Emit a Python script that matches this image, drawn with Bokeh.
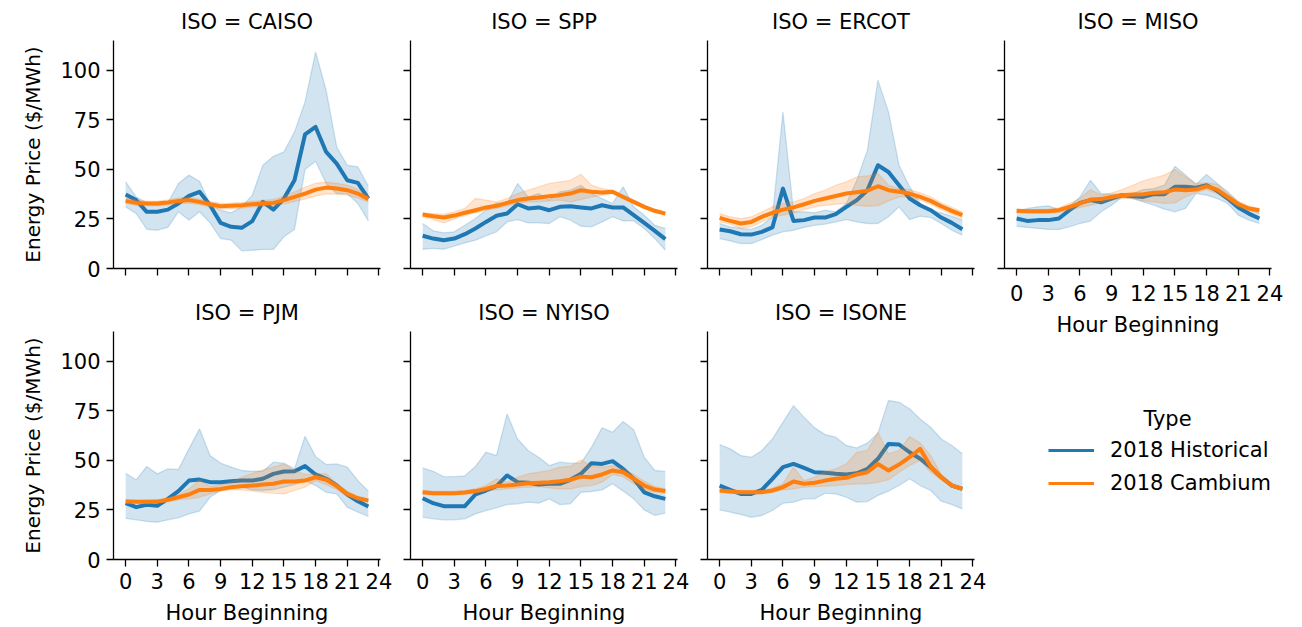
from bokeh.plotting import figure
from bokeh.models import ColumnDataSource, Range1d, FixedTicker, Legend, LegendItem, Label
from bokeh.layouts import row, column
from bokeh.embed import file_html
from bokeh.resources import INLINE

hours = list(range(24))
hour_ticks = [0, 3, 6, 9, 12, 15, 18, 21, 24]
price_ticks = [0, 25, 50, 75, 100]
series_labels = ["2018 Historical", "2018 Cambium"]

# ---- CAISO ----
caiso_hist = [37.3, 34.5, 28.6, 28.6, 29.7, 32.8, 36.6, 38.7, 31.9, 23.0, 21.0, 20.5, 23.9, 33.6, 29.7, 35.3, 44.5, 67.6, 71.4, 58.8, 52.9, 44.5, 43.2, 35.3]
caiso_hist_hi = [43.7, 36.1, 33.1, 31.9, 33.1, 42.9, 47.1, 44.0, 32.4, 29.4, 28.1, 31.1, 37.0, 52.1, 56.6, 58.8, 68.9, 84.0, 109.2, 89.9, 61.3, 52.1, 51.3, 41.5]
caiso_hist_lo = [31.1, 27.7, 19.8, 19.3, 20.7, 28.6, 24.4, 28.6, 23.0, 15.1, 14.3, 8.9, 9.2, 9.6, 9.6, 16.0, 19.7, 49.9, 54.1, 42.9, 37.8, 37.8, 32.8, 24.0]
caiso_camb = [34.1, 33.1, 32.8, 32.8, 33.3, 34.1, 34.5, 33.6, 32.4, 31.4, 31.6, 31.9, 32.4, 32.8, 33.1, 34.5, 36.1, 37.8, 39.8, 40.8, 40.3, 39.5, 37.8, 35.0]
caiso_camb_hi = [35.5, 34.5, 34.0, 34.0, 34.6, 35.5, 36.0, 35.0, 33.8, 32.8, 33.0, 33.3, 33.8, 34.3, 34.8, 36.5, 38.6, 41.0, 43.0, 43.5, 43.0, 42.0, 40.0, 36.5]
caiso_camb_lo = [32.8, 31.8, 31.6, 31.6, 32.0, 32.7, 33.0, 32.2, 31.0, 30.0, 30.2, 30.5, 31.0, 31.4, 31.5, 32.6, 33.8, 35.0, 36.5, 37.6, 37.5, 37.0, 35.6, 33.5]

# ---- SPP ----
spp_hist = [16.5, 15.1, 14.3, 15.1, 17.3, 20.2, 23.5, 26.6, 27.7, 32.4, 30.3, 30.8, 29.4, 31.1, 31.4, 30.8, 30.3, 31.9, 30.8, 30.8, 26.9, 23.0, 19.0, 14.8]
spp_hist_hi = [22.7, 19.0, 18.0, 18.5, 21.8, 25.2, 29.4, 33.1, 32.8, 42.9, 36.1, 37.8, 34.5, 38.7, 39.5, 42.0, 37.8, 35.3, 32.8, 41.2, 31.1, 26.9, 21.8, 20.2]
spp_hist_lo = [9.7, 10.1, 9.7, 11.3, 12.9, 14.3, 16.5, 18.5, 23.5, 24.7, 23.0, 23.0, 22.7, 26.1, 24.4, 21.3, 21.0, 23.5, 26.1, 24.0, 24.0, 20.2, 15.1, 9.2]
spp_camb = [27.2, 26.4, 25.7, 26.7, 28.1, 29.4, 30.8, 31.6, 33.1, 34.5, 35.3, 35.8, 36.5, 37.0, 37.8, 39.5, 38.7, 38.3, 38.7, 36.1, 33.6, 31.1, 29.1, 27.7]
spp_camb_hi = [28.1, 27.7, 27.4, 28.6, 30.3, 35.3, 34.5, 33.6, 35.3, 37.8, 39.5, 41.2, 42.9, 43.7, 44.5, 47.6, 42.0, 40.3, 39.5, 37.0, 34.5, 31.9, 29.6, 28.4]
spp_camb_lo = [26.1, 24.7, 23.0, 25.0, 26.7, 28.1, 29.4, 30.3, 31.6, 32.8, 33.6, 33.6, 34.1, 34.5, 33.6, 34.8, 36.1, 37.0, 37.8, 35.3, 32.8, 30.3, 28.2, 26.9]

# ---- ERCOT ----
ercot_hist = [19.7, 18.8, 17.3, 17.1, 18.5, 20.7, 40.3, 24.0, 24.4, 25.7, 25.7, 27.4, 31.1, 34.5, 39.5, 52.1, 48.7, 42.0, 35.3, 31.9, 29.4, 25.7, 23.0, 19.8]
ercot_hist_hi = [22.7, 21.0, 20.2, 19.7, 21.8, 26.1, 79.0, 28.6, 28.6, 28.1, 29.4, 28.6, 32.8, 44.5, 59.7, 95.0, 79.0, 52.1, 41.2, 32.8, 29.4, 28.1, 26.4, 24.4]
ercot_hist_lo = [15.1, 13.9, 12.6, 12.6, 14.6, 16.8, 18.5, 19.3, 20.7, 21.8, 22.4, 23.5, 24.7, 23.5, 22.7, 22.7, 26.1, 31.1, 24.7, 26.4, 25.7, 22.7, 19.3, 16.8]
ercot_camb = [25.5, 24.0, 22.7, 23.5, 26.1, 28.1, 29.7, 30.8, 32.4, 34.1, 35.3, 36.6, 37.8, 38.5, 39.2, 41.5, 39.5, 38.7, 37.8, 36.1, 34.1, 31.4, 29.1, 26.9]
ercot_camb_hi = [27.7, 26.1, 25.2, 26.1, 28.6, 31.1, 32.8, 33.6, 35.3, 37.8, 39.5, 42.0, 43.7, 46.2, 46.7, 47.9, 42.0, 40.3, 39.8, 38.2, 36.1, 33.1, 30.8, 28.6]
ercot_camb_lo = [23.5, 22.4, 20.2, 21.0, 23.5, 26.1, 26.9, 28.1, 29.7, 31.1, 31.9, 32.4, 32.8, 31.9, 31.4, 31.6, 34.1, 36.1, 36.1, 34.5, 32.4, 29.7, 27.4, 25.2]

# ---- MISO ----
miso_hist = [25.2, 24.0, 24.4, 24.4, 25.2, 29.4, 33.1, 34.5, 33.4, 35.3, 37.0, 36.5, 36.1, 37.5, 37.5, 41.2, 41.2, 40.7, 42.0, 39.2, 35.3, 30.8, 27.7, 25.2]
miso_hist_hi = [28.6, 30.3, 31.1, 31.6, 29.7, 31.1, 36.1, 44.5, 37.8, 37.5, 37.8, 37.8, 39.8, 40.3, 42.0, 51.6, 47.1, 42.5, 47.4, 42.9, 38.7, 33.6, 30.3, 27.7]
miso_hist_lo = [21.3, 20.7, 20.2, 19.7, 19.7, 21.0, 22.7, 23.9, 28.6, 31.9, 36.1, 35.3, 33.6, 31.9, 29.9, 28.6, 30.3, 37.8, 37.0, 35.3, 32.8, 26.9, 24.4, 22.7]
miso_camb = [29.1, 28.9, 28.9, 28.9, 29.4, 31.1, 32.8, 34.8, 35.0, 36.1, 37.0, 37.3, 37.5, 38.2, 38.5, 39.8, 39.5, 39.8, 41.5, 39.8, 36.1, 32.4, 30.3, 29.4]
miso_camb_hi = [29.9, 29.7, 29.7, 29.9, 30.6, 32.8, 35.3, 39.8, 37.0, 38.2, 39.8, 42.0, 44.2, 45.7, 47.1, 49.9, 46.2, 42.9, 43.2, 42.5, 37.8, 34.0, 31.4, 30.3]
miso_camb_lo = [28.1, 27.9, 27.9, 27.9, 28.2, 29.4, 30.8, 31.9, 33.1, 34.5, 35.3, 35.3, 34.1, 33.6, 32.8, 33.1, 36.1, 38.3, 39.8, 37.8, 34.5, 31.1, 29.1, 28.2]

# ---- PJM ----
pjm_hist = [28.4, 26.4, 27.6, 27.1, 30.6, 34.5, 39.8, 40.3, 39.0, 39.0, 39.5, 39.8, 39.8, 40.7, 43.2, 44.4, 44.5, 47.1, 42.9, 40.7, 37.3, 32.8, 29.4, 26.7]
pjm_hist_hi = [43.5, 40.2, 46.9, 43.2, 45.7, 45.4, 55.8, 65.9, 52.4, 48.6, 46.6, 44.9, 44.5, 44.5, 49.1, 48.6, 45.7, 62.2, 51.9, 47.9, 48.2, 46.6, 39.8, 34.5]
pjm_hist_lo = [20.8, 20.0, 19.2, 18.8, 20.0, 21.0, 23.0, 24.4, 31.4, 34.8, 36.5, 36.5, 35.1, 34.8, 35.3, 36.5, 37.8, 39.8, 37.3, 33.9, 33.1, 26.4, 23.9, 21.7]
pjm_camb = [29.2, 29.1, 29.1, 29.2, 30.1, 31.4, 32.8, 35.1, 35.1, 35.6, 36.5, 37.0, 37.3, 37.8, 38.2, 39.3, 39.3, 39.8, 41.5, 40.2, 37.0, 33.1, 30.9, 29.7]
pjm_camb_hi = [30.1, 29.9, 29.9, 30.1, 31.1, 32.8, 35.6, 40.2, 36.8, 37.8, 39.0, 41.5, 43.5, 45.2, 46.6, 48.2, 44.9, 42.9, 43.2, 43.2, 38.5, 34.5, 31.9, 30.6]
pjm_camb_lo = [28.4, 28.2, 28.2, 28.4, 29.1, 30.1, 30.6, 31.4, 33.1, 34.5, 35.1, 35.1, 34.5, 33.9, 33.4, 33.1, 34.8, 36.5, 39.8, 37.8, 35.3, 31.8, 30.1, 28.9]

# ---- NYISO ----
nyiso_hist = [30.9, 28.4, 26.9, 26.9, 26.9, 32.8, 34.8, 37.0, 42.4, 39.0, 38.7, 37.8, 38.2, 38.2, 40.2, 43.2, 48.6, 48.2, 49.6, 45.7, 40.7, 33.9, 31.9, 30.6]
nyiso_hist_hi = [46.2, 44.5, 41.8, 41.8, 42.2, 46.9, 54.1, 52.4, 73.4, 60.8, 55.0, 51.6, 47.4, 49.1, 48.6, 48.6, 56.6, 66.4, 64.2, 69.6, 65.4, 51.6, 44.9, 44.4]
nyiso_hist_lo = [21.3, 20.5, 20.0, 20.0, 20.5, 23.0, 24.7, 26.1, 27.7, 28.1, 28.9, 28.4, 30.6, 27.7, 28.1, 33.9, 34.3, 35.1, 38.2, 34.5, 30.6, 25.0, 22.2, 23.4]
nyiso_camb = [33.9, 33.4, 33.4, 33.4, 33.8, 34.5, 35.6, 37.1, 37.3, 37.8, 38.5, 38.7, 39.0, 39.5, 40.2, 41.8, 41.5, 42.9, 44.9, 44.0, 40.7, 37.3, 35.3, 34.5]
nyiso_camb_hi = [34.8, 34.3, 34.3, 34.5, 34.8, 35.6, 37.3, 40.7, 39.0, 41.5, 43.2, 44.0, 44.9, 46.6, 46.9, 50.3, 46.9, 46.6, 47.4, 45.7, 42.9, 39.5, 36.8, 35.6]
nyiso_camb_lo = [33.1, 32.6, 32.6, 32.6, 32.9, 33.4, 34.5, 35.1, 35.6, 36.1, 36.5, 36.8, 36.1, 35.6, 35.6, 36.8, 37.3, 39.0, 42.9, 41.8, 38.2, 35.1, 33.9, 33.4]

# ---- ISONE ----
isone_hist = [37.3, 35.1, 33.1, 33.1, 35.1, 40.7, 46.6, 48.2, 46.2, 44.0, 43.7, 43.2, 42.9, 43.5, 45.7, 50.8, 58.3, 58.0, 54.1, 50.8, 46.6, 41.5, 37.3, 35.6]
isone_hist_hi = [58.0, 55.8, 52.4, 51.6, 55.0, 60.8, 69.2, 77.6, 71.8, 66.4, 63.0, 61.7, 57.5, 56.3, 58.7, 63.7, 80.2, 79.3, 76.0, 70.9, 66.7, 60.8, 57.5, 53.3]
isone_hist_lo = [25.0, 23.9, 22.7, 21.3, 22.2, 24.7, 28.4, 28.9, 30.6, 30.6, 33.4, 33.1, 31.4, 28.9, 29.2, 32.3, 34.5, 37.3, 40.7, 37.3, 34.8, 29.4, 27.7, 25.5]
isone_camb = [34.8, 34.3, 33.9, 33.9, 33.9, 34.8, 36.5, 39.3, 38.2, 38.7, 39.8, 40.7, 41.2, 42.9, 44.0, 48.2, 44.9, 47.9, 51.6, 55.8, 46.9, 41.5, 37.3, 35.6]
isone_camb_hi = [35.6, 35.1, 34.8, 34.8, 34.8, 36.0, 38.2, 46.6, 39.8, 41.5, 44.5, 45.7, 48.2, 54.1, 55.0, 64.2, 53.3, 55.0, 62.0, 58.8, 52.4, 42.9, 38.5, 36.5]
isone_camb_lo = [33.9, 33.4, 33.1, 33.1, 33.4, 33.9, 35.1, 35.6, 36.5, 36.8, 37.0, 37.3, 37.8, 38.2, 38.2, 39.0, 40.2, 44.0, 47.4, 49.9, 44.0, 40.2, 36.5, 34.8]

BLUE = "#1f77b4"
ORANGE = "#ff7f0e"
FONT = "DejaVu Sans"
FS = "21px"

FRAME_W = 267
FRAME_H = 228


def style_axis(ax, show_labels, label_text, label_size, label_standoff, tick_standoff):
    ax.axis_line_color = "black"
    ax.axis_line_width = 1.3
    ax.major_tick_line_color = "black"
    ax.major_tick_line_width = 1.3
    ax.major_tick_out = 7
    ax.major_tick_in = 0
    ax.minor_tick_line_color = None
    ax.major_label_text_font = FONT
    ax.major_label_standoff = tick_standoff
    if show_labels:
        ax.major_label_text_font_size = FS
        ax.major_label_text_color = "black"
        ax.axis_label = label_text
        ax.axis_label_text_font = FONT
        ax.axis_label_text_font_style = "normal"
        ax.axis_label_text_color = "black"
        ax.axis_label_text_font_size = label_size
        ax.axis_label_standoff = label_standoff
    else:
        # shared axis: tick marks only, no tick labels drawn
        ax.major_label_text_font_size = "1px"
        ax.major_label_text_color = None
        ax.major_label_standoff = 0


def make_panel(name, hist, hist_lo, hist_hi, camb, camb_lo, camb_hi,
               ylabels, xlabels, b_left, b_right, b_bottom, x_tick_standoff=6):
    p = figure(frame_width=FRAME_W, frame_height=FRAME_H,
               x_range=Range1d(-1.15, 24.15), y_range=Range1d(0, 115),
               output_backend="svg", toolbar_location=None,
               min_border_left=b_left, min_border_right=b_right,
               min_border_top=40, min_border_bottom=b_bottom)
    p.outline_line_color = None
    p.grid.visible = False
    p.background_fill_color = "white"
    p.border_fill_color = "white"

    p.title.text = "ISO = " + name
    p.title.align = "center"
    p.title.text_font = FONT
    p.title.text_font_size = FS
    p.title.text_font_style = "normal"
    p.title.text_color = "black"
    p.title.standoff = 13

    src = ColumnDataSource(dict(h=hours, hist=hist, hist_lo=hist_lo, hist_hi=hist_hi,
                                camb=camb, camb_lo=camb_lo, camb_hi=camb_hi))
    for col, mean, lo, hi in ((BLUE, "hist", "hist_lo", "hist_hi"),
                              (ORANGE, "camb", "camb_lo", "camb_hi")):
        p.varea(x="h", y1=lo, y2=hi, source=src, fill_color=col, fill_alpha=0.2)
        p.line(x="h", y=hi, source=src, line_color=col, line_alpha=0.2, line_width=1.3)
        p.line(x="h", y=lo, source=src, line_color=col, line_alpha=0.2, line_width=1.3)
        p.line(x="h", y=mean, source=src, line_color=col, line_width=4,
               line_join="round")

    p.xaxis.ticker = FixedTicker(ticks=hour_ticks)
    p.yaxis.ticker = FixedTicker(ticks=price_ticks)
    style_axis(p.xaxis[0], xlabels, "Hour Beginning", FS, 9, x_tick_standoff)
    style_axis(p.yaxis[0], ylabels, "Energy Price ($/MWh)", "20px", 12, 6)
    return p


f_caiso = make_panel("CAISO", caiso_hist, caiso_hist_lo, caiso_hist_hi,
                     caiso_camb, caiso_camb_lo, caiso_camb_hi, True, False, 113, 15, 23)
f_spp = make_panel("SPP", spp_hist, spp_hist_lo, spp_hist_hi,
                   spp_camb, spp_camb_lo, spp_camb_hi, False, False, 15, 15, 23)
f_ercot = make_panel("ERCOT", ercot_hist, ercot_hist_lo, ercot_hist_hi,
                     ercot_camb, ercot_camb_lo, ercot_camb_hi, False, False, 15, 15, 23)
f_miso = make_panel("MISO", miso_hist, miso_hist_lo, miso_hist_hi,
                    miso_camb, miso_camb_lo, miso_camb_hi, False, True, 15, 25, 77,
                    x_tick_standoff=9)
f_pjm = make_panel("PJM", pjm_hist, pjm_hist_lo, pjm_hist_hi,
                   pjm_camb, pjm_camb_lo, pjm_camb_hi, True, True, 113, 15, 68)
f_nyiso = make_panel("NYISO", nyiso_hist, nyiso_hist_lo, nyiso_hist_hi,
                     nyiso_camb, nyiso_camb_lo, nyiso_camb_hi, False, True, 15, 15, 68)
f_isone = make_panel("ISONE", isone_hist, isone_hist_lo, isone_hist_hi,
                     isone_camb, isone_camb_lo, isone_camb_hi, False, True, 15, 15, 68)

# ---- legend panel ----
LEG_W, LEG_H = 307, 282
f_leg = figure(frame_width=LEG_W, frame_height=LEG_H, x_range=Range1d(0, LEG_W),
               y_range=Range1d(0, LEG_H), x_axis_type=None, y_axis_type=None,
               output_backend="svg", toolbar_location=None,
               min_border_left=0, min_border_right=0, min_border_top=0, min_border_bottom=0)
f_leg.outline_line_color = None
f_leg.grid.visible = False
# legend swatch renderers: points lie outside the visible range
r_hist = f_leg.line(x=[-50, -40], y=[-50, -40], line_color=BLUE, line_width=3)
r_camb = f_leg.line(x=[-50, -40], y=[-50, -40], line_color=ORANGE, line_width=3)
legend = Legend(items=[LegendItem(label=series_labels[0], renderers=[r_hist]),
                       LegendItem(label=series_labels[1], renderers=[r_camb])],
                location=(59, 132), padding=0, margin=0, spacing=9,
                glyph_width=46, glyph_height=24, label_height=24, label_standoff=16,
                label_text_font=FONT, label_text_font_size=FS, label_text_color="black",
                border_line_color=None, background_fill_alpha=0)
f_leg.add_layout(legend, "center")
f_leg.add_layout(Label(x=163, y=209, text="Type", text_align="center",
                       text_baseline="alphabetic", text_font=FONT,
                       text_font_size=FS, text_color="black"))

layout = row(column(f_caiso, f_pjm), column(f_spp, f_nyiso),
             column(f_ercot, f_isone), column(f_miso, f_leg))

open("out.html", "w").write(file_html(layout, INLINE))
